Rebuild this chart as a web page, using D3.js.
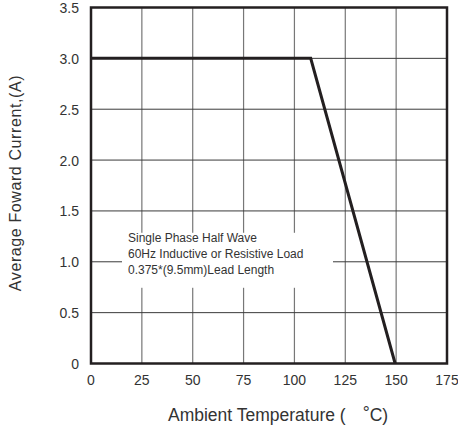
<!DOCTYPE html>
<html>
<head>
<meta charset="utf-8">
<script src="https://cdn.jsdelivr.net/npm/d3@7"></script>
<style>
  body { margin: 0; background: #fff; }
  text { font-family: "Liberation Sans", Arial, sans-serif; fill: #333; }
</style>
</head>
<body>
<div id="chart"></div>
<script>
// derating curve
var temps = [0, 108, 149.5];
var amps = [3.0, 3.0, 0];
var xTicks = [0, 25, 50, 75, 100, 125, 150, 175];
var yTicks = [0, 0.5, 1.0, 1.5, 2.0, 2.5, 3.0, 3.5];
var yTickLabels = ["0", "0.5", "1.0", "1.5", "2.0", "2.5", "3.0", "3.5"];
var noteLines = ["Single Phase Half Wave", "60Hz Inductive or Resistive Load", "0.375*(9.5mm)Lead Length"];

var W = 458, H = 429;
var margin = { left: 91, right: 11, top: 7.5, bottom: 65.5 };
var w = W - margin.left - margin.right,
    h = H - margin.top - margin.bottom;

var svg = d3.select("#chart").append("svg")
    .attr("width", W)
    .attr("height", H);

var g = svg.append("g")
    .attr("transform", "translate(" + margin.left + "," + margin.top + ")");

var x = d3.scaleLinear().domain([0, 175]).range([0, w]);
var y = d3.scaleLinear().domain([0, 3.5]).range([h, 0]);

// grid
g.selectAll(".vgrid")
    .data(xTicks.slice(1, -1))
    .enter().append("line")
    .attr("x1", d => x(d)).attr("x2", d => x(d))
    .attr("y1", 0).attr("y2", h)
    .attr("stroke", "#777")
    .attr("stroke-width", 1.2);

g.selectAll(".hgrid")
    .data(yTicks.slice(1, -1))
    .enter().append("line")
    .attr("x1", 0).attr("x2", w)
    .attr("y1", d => y(d)).attr("y2", d => y(d))
    .attr("stroke", "#3a3a3a")
    .attr("stroke-width", 1);

// white box behind the note
g.append("rect")
    .attr("x", 31)
    .attr("y", y(1.0) - 29)
    .attr("width", 211)
    .attr("height", 55)
    .attr("fill", "#fff");

g.selectAll(".note")
    .data(noteLines)
    .enter().append("text")
    .attr("x", 37)
    .attr("y", (d, i) => y(1.0) - 20 + i * 16)
    .attr("font-size", "12px")
    .text(d => d);

// curve
var line = d3.line()
    .x((d, i) => x(temps[i]))
    .y(d => y(d));

g.append("path")
    .datum(amps)
    .attr("d", line)
    .attr("fill", "none")
    .attr("stroke", "#231f20")
    .attr("stroke-width", 3)
    .attr("stroke-linejoin", "miter");

// frame
g.append("rect")
    .attr("x", 0).attr("y", 0)
    .attr("width", w).attr("height", h)
    .attr("fill", "none")
    .attr("stroke", "#231f20")
    .attr("stroke-width", 2.5);

// tick labels
g.selectAll(".xlab")
    .data(xTicks)
    .enter().append("text")
    .attr("x", d => x(d))
    .attr("y", h + 21.5)
    .attr("text-anchor", "middle")
    .attr("font-size", "14px")
    .text(d => d);

g.selectAll(".ylab")
    .data(yTicks)
    .enter().append("text")
    .attr("x", -12)
    .attr("y", d => y(d) + 5.5)
    .attr("text-anchor", "end")
    .attr("font-size", "14px")
    .text((d, i) => yTickLabels[i]);

// axis titles
var xt = svg.append("text")
    .attr("x", 168)
    .attr("y", 421)
    .attr("font-size", "17.5px");
xt.append("tspan").text("Ambient Temperature (");
xt.append("tspan").attr("dx", 17).attr("dy", -2).text("\u00B0");
xt.append("tspan").attr("dy", 2).text("C)");

svg.append("text")
    .attr("transform", "translate(20.5,183) rotate(-90)")
    .attr("text-anchor", "middle")
    .attr("font-size", "16px")
    .attr("letter-spacing", "0.6px")
    .text("Average Foward Current,(A)");
</script>
</body>
</html>
